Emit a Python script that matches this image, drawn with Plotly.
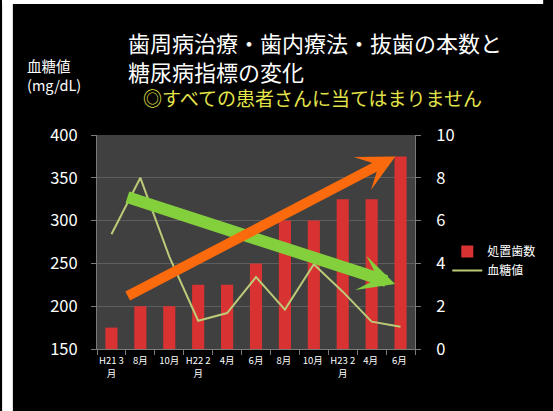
import plotly.graph_objects as go

# ---- data ----
categories = ["H21 3<br>月", "8月", "10月", "H22 2<br>月", "4月", "6月",
              "8月 ", "10月 ", "H23 2<br>月", "4月 ", "6月 "]
teeth_treated = [1, 2, 2, 3, 3, 4, 6, 6, 7, 7, 9]          # 処置歯数 (right axis)
blood_glucose = [284, 350, 258, 183, 192, 234, 196, 249, 217, 182, 176]  # 血糖値 (left axis)
left_ticks = [150, 200, 250, 300, 350, 400]
right_ticks = [0, 2, 4, 6, 8, 10]

# trend arrows (category index / left-axis value)
orange_tail, orange_tip = (0.51, 211), (9.82, 375)
green_tail, green_tip = (0.50, 328), (9.81, 226)

W, H = 553, 411
L, R, T, B = 97, 422, 135, 349  # plot area in pixels


def px2x(px):
    return (px - L) / (R - L)


def py2y(py):
    return (B - py) / (B - T)


font_family = "Noto Sans CJK JP"

fig = go.Figure()
fig.add_trace(go.Bar(
    x=categories, y=teeth_treated, name="処置歯数", yaxis="y",
    marker=dict(color="#d83232", line=dict(width=0)),
))
fig.add_trace(go.Scatter(
    x=categories, y=blood_glucose, name="血糖値", yaxis="y2", mode="lines",
    line=dict(color="#bccb78", width=2),
))

annotations = [
    dict(text="歯周病治療・歯内療法・抜歯の本数と<br>糖尿病指標の変化",
         x=px2x(128), y=py2y(56), align="left",
         font=dict(size=22, color="white")),
    dict(text="◎すべての患者さんに当てはまりません", x=px2x(143), y=py2y(98),
         font=dict(size=19, color="#e4e44a")),
    dict(text="血糖値<br>(mg/dL)", x=px2x(24), y=py2y(75), align="left",
         font=dict(size=14.5, color="white")),
]
for a in annotations:
    a.update(xref="paper", yref="paper", xanchor="left", yanchor="middle",
             showarrow=False, borderpad=0)

arrows = [
    dict(x=green_tip[0], y=green_tip[1], ax=green_tail[0], ay=green_tail[1],
         arrowcolor="#84d03c", arrowwidth=12, arrowsize=0.5, arrowhead=3),
    dict(x=orange_tip[0], y=orange_tip[1], ax=orange_tail[0], ay=orange_tail[1],
         arrowcolor="#fb6a0c", arrowwidth=10, arrowsize=0.62, arrowhead=3),
]
for a in arrows:
    a.update(xref="x", yref="y2", axref="x", ayref="y2", showarrow=True,
             text="", standoff=0, startstandoff=0)

shapes = [
    dict(type="rect", xref="paper", yref="paper", x0=px2x(0), x1=px2x(W),
         y0=py2y(0), y1=py2y(4), fillcolor="white", line=dict(width=0)),
    dict(type="rect", xref="paper", yref="paper", x0=px2x(0), x1=px2x(11),
         y0=py2y(0), y1=py2y(H), fillcolor="white", line=dict(width=0)),
]

axis_line = "#7a7a7a"
fig.update_layout(
    width=W, height=H,
    margin=dict(l=L, r=W - R, t=T, b=H - B),
    paper_bgcolor="black", plot_bgcolor="#404040",
    font=dict(family=font_family, color="white"),
    bargap=0.58,
    showlegend=True,
    legend=dict(x=px2x(455), y=py2y(237), xanchor="left", yanchor="top",
                font=dict(size=12, color="white"), bgcolor="rgba(0,0,0,0)",
                itemwidth=30, tracegroupgap=0),
    xaxis=dict(type="category", tickfont=dict(size=9.5), tickangle=0,
               showline=True, linecolor=axis_line, ticks="outside",
               tickson="boundaries", ticklen=5, tickcolor=axis_line,
               showgrid=False, ticklabelstandoff=3),
    yaxis=dict(side="right", range=[0, 10], tickvals=right_ticks,
               tickfont=dict(size=16.5), showgrid=True, gridcolor="#5e5e5e",
               showline=True, linecolor=axis_line, ticks="outside", ticklen=5,
               tickcolor=axis_line, zeroline=False, ticklabelstandoff=12),
    yaxis2=dict(side="left", overlaying="y", range=[150, 400],
                tickvals=left_ticks, tickfont=dict(size=16.5), showgrid=False,
                showline=True, linecolor=axis_line, ticks="outside", ticklen=5,
                tickcolor=axis_line, zeroline=False, ticklabelstandoff=10),
    annotations=annotations + arrows,
    shapes=shapes,
    hovermode=False,
)

fig.write_html("out.html", config={"displayModeBar": False})
